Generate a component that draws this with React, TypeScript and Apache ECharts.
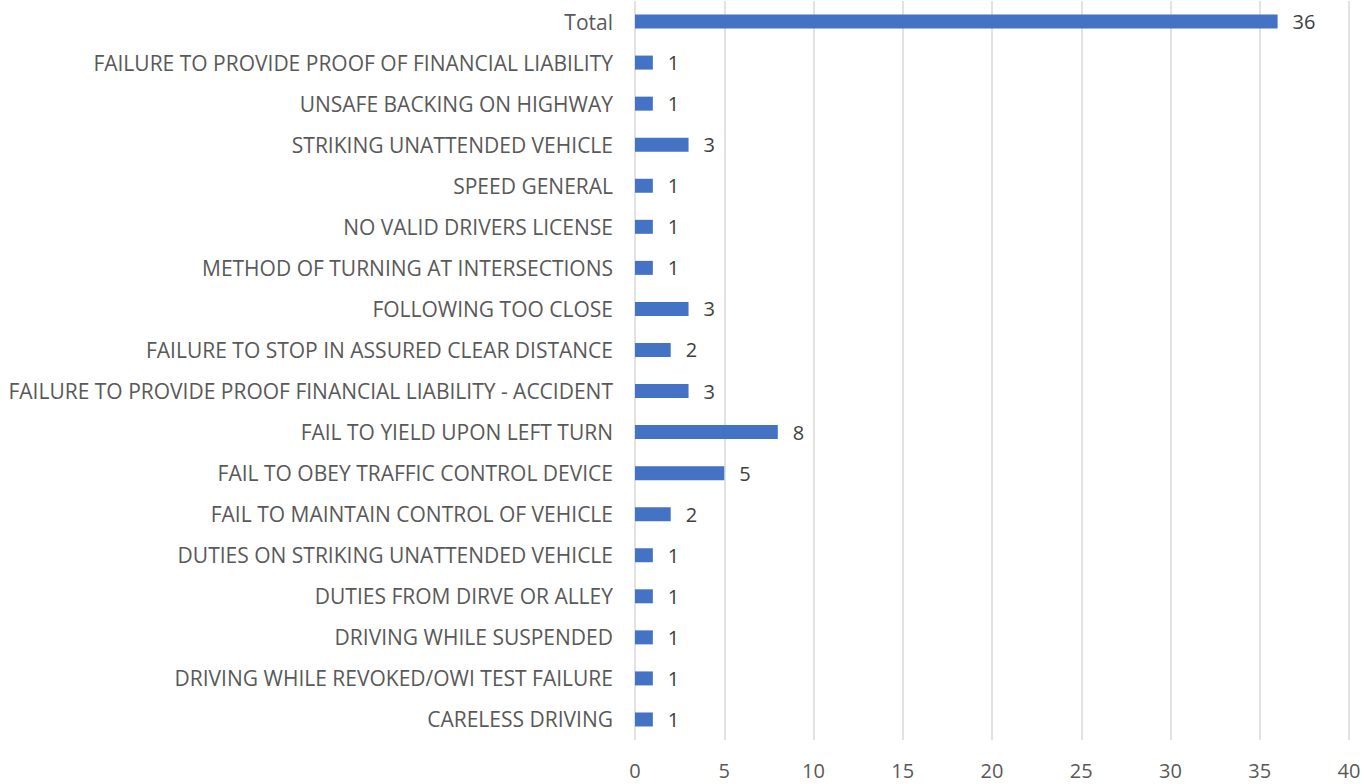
import React, { useEffect, useRef } from "react";
import * as echarts from "echarts";

const categories = [
  "CARELESS DRIVING",
  "DRIVING WHILE REVOKED/OWI TEST FAILURE",
  "DRIVING WHILE SUSPENDED",
  "DUTIES FROM DIRVE OR ALLEY",
  "DUTIES ON STRIKING UNATTENDED VEHICLE",
  "FAIL TO MAINTAIN CONTROL OF VEHICLE",
  "FAIL TO OBEY TRAFFIC CONTROL DEVICE",
  "FAIL TO YIELD UPON LEFT TURN",
  "FAILURE TO PROVIDE PROOF FINANCIAL LIABILITY - ACCIDENT",
  "FAILURE TO STOP IN ASSURED CLEAR DISTANCE",
  "FOLLOWING TOO CLOSE",
  "METHOD OF TURNING AT INTERSECTIONS",
  "NO VALID DRIVERS LICENSE",
  "SPEED GENERAL",
  "STRIKING UNATTENDED VEHICLE",
  "UNSAFE BACKING ON HIGHWAY",
  "FAILURE TO PROVIDE PROOF OF FINANCIAL LIABILITY",
  "Total",
];

const values = [1, 1, 1, 1, 1, 2, 5, 8, 3, 2, 3, 1, 1, 1, 3, 1, 1, 36];

const FONT = "'Open Sans', sans-serif";

export default function App() {
  const ref = useRef<HTMLDivElement>(null);
  useEffect(() => {
    if (!ref.current) return;
    const chart = echarts.init(ref.current, undefined, { renderer: "svg" });
    chart.setOption({
      animation: false,
      backgroundColor: "#ffffff",
      grid: { left: 635, right: 17, top: 1, bottom: 44, containLabel: false },
      xAxis: {
        type: "value",
        min: 0,
        max: 40,
        interval: 5,
        axisLine: { show: false },
        axisTick: { show: false },
        axisLabel: { color: "#595959", fontSize: 20, fontFamily: FONT, margin: 20 },
        splitLine: { show: true, lineStyle: { color: "#d9d9d9", width: 1.5 } },
      },
      yAxis: {
        type: "category",
        data: categories,
        axisLine: { show: false },
        axisTick: { show: false },
        axisLabel: { color: "#595959", fontSize: 21, fontFamily: FONT, margin: 22 },
        splitLine: { show: false },
      },
      series: [
        {
          type: "bar",
          data: values,
          barWidth: 14,
          itemStyle: { color: "#4472c4" },
          label: {
            show: true,
            position: "right",
            distance: 15,
            color: "#404040",
            fontSize: 20,
            fontFamily: FONT,
          },
        },
      ],
    });
    return () => chart.dispose();
  }, []);
  return <div ref={ref} style={{ width: 1366, height: 784, position: "absolute", left: 0, top: 0 }} />;
}
